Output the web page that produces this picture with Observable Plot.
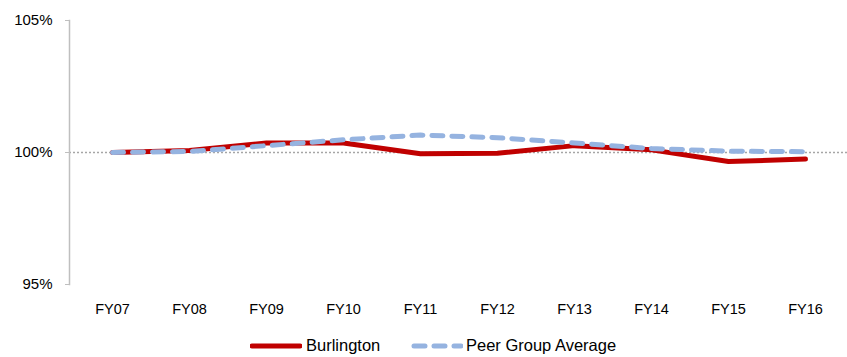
<!DOCTYPE html>
<html><head><meta charset="utf-8">
<script src="https://cdn.jsdelivr.net/npm/d3@7"></script>
<script src="https://cdn.jsdelivr.net/npm/@observablehq/plot@0.6"></script>
<style>
body{margin:0;background:#fff;font-family:"Liberation Sans Narrow","Liberation Sans",sans-serif;}
#legend{position:relative;height:32px;width:847px;font-size:16.5px;color:#000;}
.item{position:absolute;top:11px;display:flex;align-items:center;}
</style></head>
<body>
<div id="chart"></div>
<div id="legend"></div>
<script>
const years = ["FY07","FY08","FY09","FY10","FY11","FY12","FY13","FY14","FY15","FY16"];
const burlington = [100.00,100.08,100.36,100.36,99.95,99.97,100.26,100.10,99.66,99.75];
const peer = [100.00,100.04,100.26,100.48,100.66,100.56,100.36,100.15,100.05,100.03];
const seriesNames = ["Burlington","Peer Group Average"];
const yTicks = [95,100,105];

const data = [];
years.forEach((y,i)=>{
  data.push({year:y, value:burlington[i], series:seriesNames[0]});
  data.push({year:y, value:peer[i], series:seriesNames[1]});
});

const plot = Plot.plot({
  width:847, height:325,
  marginLeft:69, marginRight:0, marginTop:20, marginBottom:41,
  style:{fontFamily:'"Liberation Sans Narrow","Liberation Sans",sans-serif', fontSize:"14px", color:"#000"},
  x:{type:"point", domain:years, padding:0.5, label:null},
  y:{domain:[95,105], label:null},
  marks:[
    Plot.ruleY([100], {stroke:"#A6A6A6", strokeWidth:1.5, strokeDasharray:"2,2"}),
    Plot.frame({anchor:"left", stroke:"#BFBFBF", strokeWidth:1.5}),
    Plot.axisY(yTicks, {tickSize:4, tickPadding:13, stroke:"#BFBFBF", tickFormat:d=>d+"%", fontSize:15, label:null}),
    Plot.axisX({tickSize:0, tickPadding:19, fontSize:14.5, label:null}),
    Plot.line(data.filter(d=>d.series===seriesNames[0]), {x:"year", y:"value", stroke:"#C00000", strokeWidth:5, strokeLinejoin:"round"}),
    Plot.line(data.filter(d=>d.series===seriesNames[1]), {x:"year", y:"value", stroke:"#95B3E0", strokeWidth:5, strokeLinecap:"round", strokeDasharray:"11,9"})
  ]
});
document.getElementById("chart").appendChild(plot);

const legend = document.getElementById("legend");
legend.innerHTML = `
<div class="item" style="left:250px"><svg width="52" height="10"><line x1="2" y1="5" x2="50" y2="5" stroke="#C00000" stroke-width="5" stroke-linecap="round"/></svg><span style="margin-left:4px">${seriesNames[0]}</span></div>
<div class="item" style="left:411px"><svg width="52" height="10"><line x1="3" y1="5" x2="50" y2="5" stroke="#95B3E0" stroke-width="5" stroke-linecap="round" stroke-dasharray="11,9"/></svg><span style="margin-left:3px">${seriesNames[1]}</span></div>`;
</script>
</body></html>
